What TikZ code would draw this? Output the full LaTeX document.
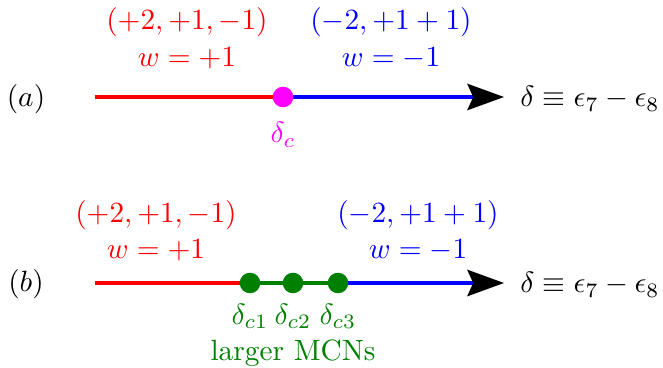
\documentclass[tikz,border=0pt]{standalone}
\usetikzlibrary{arrows.meta,positioning}
\definecolor{Plus}{HTML}{FF0000}
\definecolor{Minus}{HTML}{0000FF}
\definecolor{Crit}{HTML}{FF00FF}
\definecolor{Mcn}{HTML}{008000}
\tikzset{
  axisline/.style={line width=1.1pt},
  tipline/.style={-{Stealth[length=12.5pt,width=9pt,inset=2pt,color=black]}},
  dotc/.style={circle,fill=#1,inner sep=0pt,minimum size=7pt},
  deltalab/.style={anchor=west}
}
\begin{document}
\begin{tikzpicture}[x=0.341pt,y=-0.341pt]
  \useasboundingbox (0,0) rectangle (663,368);
  % (a) single critical point
  \node (la) at (26,99) {$(a)$};
  \coordinate (a0) at (95,97);
  \coordinate (ca) at (283,97);
  \coordinate (a1) at (504,97);
  \draw[axisline,Plus] (a0)--(ca);
  \draw[axisline,Minus,tipline] (ca)--(a1);
  \node[dotc=Crit] (dc) at (ca) {};
  \node[Crit,below=1.5pt of dc] (dcl) {$\delta_c$};
  \node[deltalab] (da) at (510,99) {$\delta\equiv\epsilon_7-\epsilon_8$};
  \node[Plus] (pa) at (187,22) {$(+2,+1,-1)$};
  \node[Plus] (wpa) at (187,58) {$w=+1$};
  \node[Minus] (ma) at (391,22) {$(-2,+1+1)$};
  \node[Minus] (wma) at (391,58) {$w=-1$};
  % (b) several critical points
  \node (lb) at (26,284) {$(b)$};
  \coordinate (b0) at (95,283);
  \coordinate (c1) at (250,283);
  \coordinate (c2) at (293,283);
  \coordinate (c3) at (338,283);
  \coordinate (b1) at (504,283);
  \draw[axisline,Plus] (b0)--(c1);
  \draw[axisline,Mcn] (c1)--(c3);
  \draw[axisline,Minus,tipline] (c3)--(b1);
  \node[dotc=Mcn] (d1) at (c1) {};
  \node[dotc=Mcn] (d2) at (c2) {};
  \node[dotc=Mcn] (d3) at (c3) {};
  \node[Mcn,below=0pt of d1] (d1l) {$\delta_{c1}$};
  \node[Mcn,below=0pt of d2] (d2l) {$\delta_{c2}$};
  \node[Mcn,below=0pt of d3] (d3l) {$\delta_{c3}$};
  \node[Mcn] (mcn) at (293,353) {larger MCNs};
  \node[deltalab] (db) at (510,285) {$\delta\equiv\epsilon_7-\epsilon_8$};
  \node[Plus] (pb) at (156,215) {$(+2,+1,-1)$};
  \node[Plus] (wpb) at (156,250) {$w=+1$};
  \node[Minus] (mb) at (418,215) {$(-2,+1+1)$};
  \node[Minus] (wmb) at (418,250) {$w=-1$};
\end{tikzpicture}
\end{document}
